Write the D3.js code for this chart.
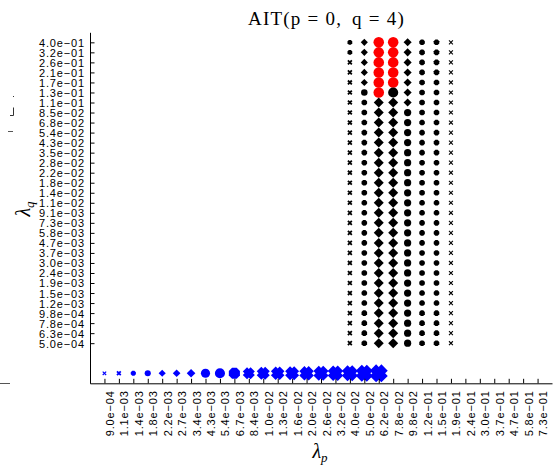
<!DOCTYPE html>
<html>
<head>
<meta charset="utf-8">
<script src="https://cdn.jsdelivr.net/npm/d3@7"></script>
<style>
  html, body { margin: 0; padding: 0; background: #fff; }
  svg { display: block; }
</style>
</head>
<body>
<svg id="chart" width="558" height="466"></svg>
<script>
// Regularisation grid along the horizontal axis (λ_p)
const lambdaP = ["9.0e-04","1.1e-03","1.4e-03","1.8e-03","2.2e-03","2.7e-03","3.4e-03","4.3e-03",
  "5.4e-03","6.7e-03","8.4e-03","1.0e-02","1.3e-02","1.6e-02","2.0e-02","2.6e-02","3.2e-02",
  "4.0e-02","5.0e-02","6.2e-02","7.8e-02","9.8e-02","1.2e-01","1.5e-01","1.9e-01","2.4e-01",
  "3.0e-01","3.7e-01","4.7e-01","5.8e-01","7.3e-01"];

// Regularisation grid along the vertical axis (λ_q), top to bottom
const lambdaQ = ["4.0e-01","3.2e-01","2.6e-01","2.1e-01","1.7e-01","1.3e-01","1.1e-01","8.5e-02",
  "6.8e-02","5.4e-02","4.3e-02","3.5e-02","2.8e-02","2.2e-02","1.8e-02","1.4e-02","1.1e-02",
  "9.1e-03","7.3e-03","5.8e-03","4.7e-03","3.7e-03","3.0e-03","2.4e-03","1.9e-03","1.5e-03",
  "1.2e-03","9.8e-04","7.8e-04","6.3e-04","5.0e-04"];

// λ_q = 0 row: marker kind and score for the first 20 λ_p values
const baseKind = ["x","xb","dot","circle","diamond","diamond","diamond","circle","circle","oct",
  "X","X","X","X","X","X","X","X","X","X"];
const baseScore = [0.02,0.07,0.07,0.14,0.21,0.25,0.32,0.36,0.43,0.50,
  0.57,0.64,0.68,0.71,0.75,0.79,0.82,0.86,0.93,1.00];

// Full (λ_p, λ_q) grid: columns that were evaluated
const gridCols = ["4.0e-02","5.0e-02","6.2e-02","7.8e-02","9.8e-02","1.2e-01","1.5e-01","1.9e-01"];
// Runs down each column from λ_q = 4.0e-01: [kind, score, number of rows, group]
const gridRuns = [
  [["dot",0.04,2,"grid"],["xb",0.08,29,"grid"]],
  [["diamond",0.21,5,"grid"],["circle",0.17,1,"grid"],["dot",0.10,25,"grid"]],
  [["circle",0.46,6,"best"],["diamond",0.42,25,"grid"]],
  [["circle",0.46,5,"best"],["circle",0.43,1,"grid"],["diamond",0.42,25,"grid"]],
  [["diamond",0.28,7,"grid"],["circle",0.22,24,"grid"]],
  [["dot",0.10,31,"grid"]],
  [["dot",0.10,31,"grid"]],
  [["x",0.05,31,"grid"]]
];

const groupColor = { base: "#0000ff", grid: "#000000", best: "#ff0000" };

const svg = d3.select("#chart");

// slot scales: λ_p labels occupy slots 1..31, λ_q labels slots 34..4, λ_q = 0 row at slot 1
const x = d3.scaleLinear().domain([0, 32]).range([90, 552]);
const y = d3.scaleLinear().domain([0, 35]).range([383.3, 32.3]);
const xSlot = lab => lambdaP.indexOf(lab) + 1;
const ySlot = lab => 34 - lambdaQ.indexOf(lab);
const size = d3.scaleLinear().domain([0, 1]).range([4.2, 18]);

// marker outlines centred on the origin, s = overall width in px
function markerPath(kind, s) {
  const e = s / 2;
  if (kind === "circle") {
    return `M${e},0A${e},${e} 0 1,1 ${-e},0A${e},${e} 0 1,1 ${e},0Z`;
  }
  if (kind === "diamond") {
    return `M0,${-e}L${e},0L0,${e}L${-e},0Z`;
  }
  if (kind === "dot" || kind === "oct") {
    const r = e / Math.cos(Math.PI / 8);
    const pts = d3.range(8).map(k => {
      const a = Math.PI / 8 + k * Math.PI / 4;
      return [r * Math.cos(a), r * Math.sin(a)];
    });
    return "M" + pts.map(p => p.join(",")).join("L") + "Z";
  }
  if (kind === "X") {
    const a = 0.5 * e, L = e * (Math.SQRT2 - 0.5);
    const plus = [[-a,-L],[a,-L],[a,-a],[L,-a],[L,a],[a,a],[a,L],[-a,L],[-a,a],[-L,a],[-L,-a],[-a,-a]];
    const rot = plus.map(([px, py]) => [(px - py) / Math.SQRT2, (px + py) / Math.SQRT2]);
    return "M" + rot.map(p => p.join(",")).join("L") + "Z";
  }
  // thin / bold cross drawn as strokes
  const h = e - (kind === "xb" ? 0.7 : 0.5);
  return `M${-h},${-h}L${h},${h}M${-h},${h}L${h},${-h}`;
}

// assemble all marks
const marks = [];
baseKind.forEach((k, i) => {
  marks.push({ p: lambdaP[i], slotY: 1, kind: k, score: baseScore[i], group: "base" });
});
gridCols.forEach((col, c) => {
  let row = 0;
  gridRuns[c].forEach(([k, sc, n, g]) => {
    for (let j = 0; j < n; j++, row++) {
      marks.push({ p: col, slotY: ySlot(lambdaQ[row]), kind: k, score: sc, group: g });
    }
  });
});

const isCross = d => d.kind === "x" || d.kind === "xb";

svg.append("g").selectAll("path")
  .data(marks)
  .join("path")
  .attr("transform", d => `translate(${x(xSlot(d.p))},${y(d.slotY)})`)
  .attr("d", d => markerPath(d.kind, size(d.score)))
  .attr("fill", d => isCross(d) ? "none" : groupColor[d.group])
  .attr("stroke", d => isCross(d) ? groupColor[d.group] : "none")
  .attr("stroke-width", d => d.kind === "xb" ? 1.8 : (d.kind === "x" ? 1.1 : 0));

// axes
const fmt = s => s.replace("-", "\u2212");

const yAxis = d3.axisLeft(y)
  .tickValues(lambdaQ.map(ySlot))
  .tickFormat(v => fmt(lambdaQ[34 - v]))
  .tickSizeInner(-4.5)
  .tickSizeOuter(0)
  .tickPadding(5);

const xAxis = d3.axisBottom(x)
  .tickValues(lambdaP.map(xSlot))
  .tickFormat(v => fmt(lambdaP[v - 1]))
  .tickSizeInner(-4.5)
  .tickSizeOuter(0);

const axisFont = g => g
  .attr("font-family", "'Liberation Sans', Arial, sans-serif")
  .attr("font-size", 11)
  .attr("letter-spacing", 0.85);

svg.append("g")
  .attr("transform", "translate(90,0)")
  .call(yAxis)
  .call(axisFont)
  .call(g => g.selectAll("line, path").attr("stroke", "#000"))
  .call(g => g.selectAll("text").attr("fill", "#000").attr("dy", "0.36em"));

svg.append("g")
  .attr("transform", "translate(0,383.3)")
  .call(xAxis)
  .call(axisFont)
  .call(g => g.selectAll("line, path").attr("stroke", "#000"))
  .call(g => g.selectAll("text")
    .attr("fill", "#000")
    .attr("text-anchor", "end")
    .attr("transform", "rotate(-90)")
    .attr("x", -7)
    .attr("y", 9)
    .attr("dy", null));

// title
const title = svg.append("text")
  .attr("x", 326.5)
  .attr("y", 25)
  .attr("text-anchor", "middle")
  .attr("font-family", "'Liberation Serif', 'Times New Roman', serif")
  .attr("font-size", 19)
  .attr("letter-spacing", 1.2);
title.append("tspan").text("AIT(p");
title.append("tspan").attr("dx", 6).text("=");
title.append("tspan").attr("dx", 6).text("0,");
title.append("tspan").attr("dx", 4).text(" q");
title.append("tspan").attr("dx", 6).text("=");
title.append("tspan").attr("dx", 6).text("4)");

// axis titles
const yTitle = svg.append("text")
  .attr("transform", "translate(30,209) rotate(-90)")
  .attr("text-anchor", "middle")
  .attr("font-family", "'Liberation Serif', 'Times New Roman', serif")
  .attr("font-style", "italic")
  .attr("font-size", 20);
yTitle.append("tspan").text("λ");
yTitle.append("tspan").attr("font-size", 13).attr("dy", 4).text("q");

const xTitle = svg.append("text")
  .attr("x", 320)
  .attr("y", 458)
  .attr("text-anchor", "middle")
  .attr("font-family", "'Liberation Serif', 'Times New Roman', serif")
  .attr("font-style", "italic")
  .attr("font-size", 20);
xTitle.append("tspan").text("λ");
xTitle.append("tspan").attr("font-size", 13).attr("dy", 4).text("p");

// stray strokes along the left margin
const stray = svg.append("g").attr("stroke", "#333").attr("fill", "none").attr("stroke-width", 1);
stray.append("path").attr("d", "M13.5,96V97");
stray.append("path").attr("d", "M13.5,107.5V115.5H10");
stray.append("path").attr("d", "M8,131.5H13").attr("stroke", "#555");
stray.append("path").attr("d", "M0,383.5H10").attr("stroke", "#555");
</script>
</body>
</html>
